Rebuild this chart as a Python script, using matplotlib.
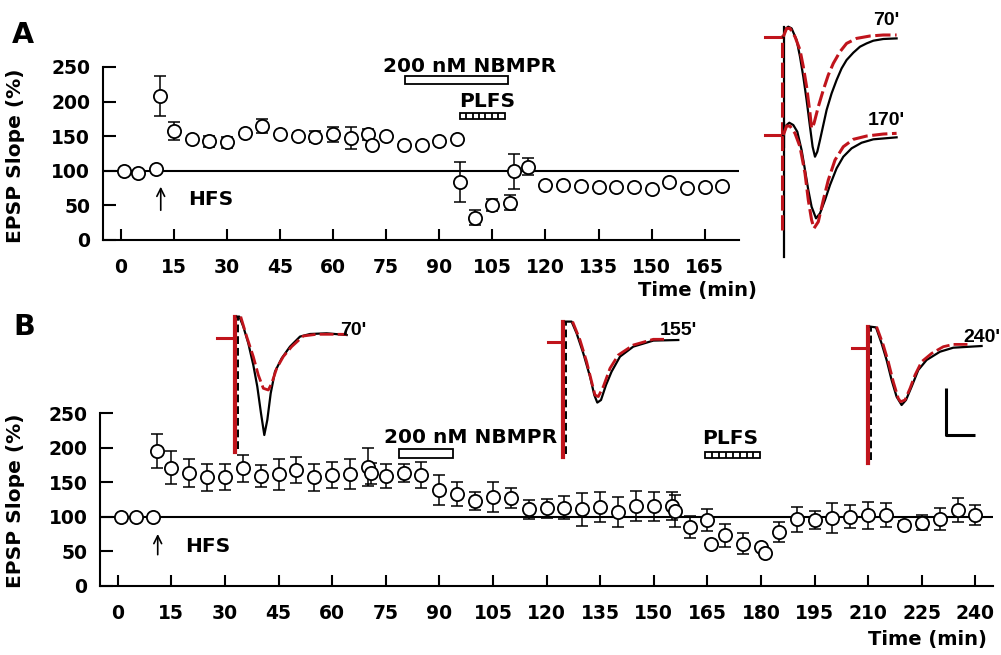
import numpy as np
import matplotlib
matplotlib.use("Agg")
import matplotlib.pyplot as plt
from matplotlib.patches import Rectangle

# ------------------------------------------------------------------ data
# Panel A: EPSP slope (% of baseline) vs time (min)
tA = [1, 5, 10, 11, 15, 20, 25, 30, 35, 40, 45, 50, 55, 60, 65, 70, 71, 75, 80, 85,
      90, 95, 96, 100, 105, 110, 111, 115, 120, 125, 130, 135, 140, 145, 150, 155, 160, 165, 170]
vA = [99, 97, 102, 208, 158, 146, 143, 141, 154, 165, 153, 151, 149, 153, 148, 153, 137.5, 150, 138, 137,
      143.5, 146, 84, 32, 50.5, 54, 99, 106, 80, 79.5, 78, 76, 77, 76, 74, 84, 75, 77, 78]
eA = [0, 0, 0, 29, 13, 3, 8, 8, 3, 10, 3, 3, 8, 11, 16, 8, 3, 3, 3, 3,
      3, 3, 29, 11, 9, 11, 25, 12, 3, 3, 3, 3, 3, 3, 3, 3, 3, 3, 3]

# Panel B
tB = [1, 5, 10, 11, 15, 20, 25, 30, 35, 40, 45, 50, 55, 60, 65, 70, 71, 75, 80, 85,
      90, 95, 100, 105, 110, 115, 120, 125, 130, 135, 140, 145, 150, 155, 156, 160, 165, 166, 170, 175,
      180, 181, 185, 190, 195, 200, 205, 210, 215, 220, 225, 230, 235, 240]
vB = [100, 100, 100, 195, 171, 163, 157, 158, 170, 159, 161.5, 168, 157, 161, 162, 172, 163, 159, 164, 160.5,
      139, 133, 123, 129, 127, 111, 112, 113, 111, 114, 107, 115.5, 115.5, 115.5, 108, 85.5, 95, 61, 73, 61,
      56.5, 48, 78, 96, 95, 97.6, 100, 102.4, 102.4, 88, 91.3, 96.2, 109.7, 102.4]
eB = [0, 0, 0, 25, 24, 20.5, 19, 19, 20, 16, 22, 19, 19, 19, 21.6, 27, 15, 17.6, 13, 19,
      22, 17, 12.6, 22, 14, 14, 13.3, 17, 24, 21.7, 21.7, 22, 21, 20, 23, 16, 16, 0, 17, 15,
      0, 0, 14.5, 17.6, 13, 21.7, 17, 19.5, 17.4, 6, 11, 16, 17.6, 15]

xticksA = list(range(0, 166, 15))
xticksB = list(range(0, 241, 15))
yticks = [0, 50, 100, 150, 200, 250]

nbmprA = (80.3, 109.5)
plfsA = (95.8, 108.5)
nbmprB = (78.8, 93.9)
plfsB = (164.4, 179.8)
hfsA = 11.3
hfsB = 11.2

# Representative EPSP traces (time in ms after stimulus, amplitude in mV rel. baseline)
# Panel A, 70'
A70_k_t = [0, 0.27, 0.5, 0.83, 1.33, 1.67, 2.0, 2.33, 2.67, 2.93, 3.17, 3.4, 3.67, 4.0, 4.33, 4.83,
           5.33, 5.83, 6.33, 7.0, 7.67, 8.33, 9.0, 10.0, 11.33]
A70_k_v = [0, 0.83, 1.0, 0.83, -0.33, -2.0, -4.0, -6.33, -9.0, -11.0, -12.0, -11.5, -10.33, -8.83, -7.33, -5.67,
           -4.33, -3.17, -2.33, -1.6, -1.0, -0.67, -0.4, -0.23, -0.17]
A70_r_t = [0, 0.33, 0.67, 1.17, 1.67, 2.0, 2.33, 2.67, 2.83, 3.07, 3.5, 4.0, 4.5, 5.0, 5.67, 6.33,
           7.33, 8.67, 10.0, 11.33]
A70_r_v = [0, 0.83, 0.83, 0, -1.33, -3.0, -5.0, -7.67, -9.17, -8.67, -7.0, -5.33, -3.83, -2.67, -1.5, -0.67,
           -0.17, 0.07, 0.17, 0.17]
# Panel A, 170'
A170_k_t = [0, 0.33, 0.6, 1.0, 1.4, 1.83, 2.17, 2.5, 2.83, 3.27, 3.67, 4.17, 4.67, 5.33, 6.0, 6.83,
            7.83, 9.0, 11.33]
A170_k_v = [0, 1.0, 1.23, 1.0, 0.33, -1.5, -3.5, -5.5, -7.17, -8.33, -7.83, -6.5, -5.0, -3.33, -2.17, -1.33,
            -0.77, -0.43, -0.23]
A170_r_t = [0, 0.33, 0.67, 1.17, 1.67, 2.17, 2.5, 2.83, 3.07, 3.5, 4.0, 4.5, 5.17, 6.0, 7.0, 8.33,
            10.0, 11.33]
A170_r_v = [0, 0.9, 0.9, 0.17, -1.17, -3.83, -6.5, -8.5, -9.33, -8.67, -6.5, -4.5, -2.5, -1.17, -0.43, -0.1,
            0.1, 0.17]
# Panel B, 70'
B70_k_t = [0.43, 0.83, 1.33, 1.83, 2.23, 2.6, 2.93, 3.23, 3.57, 4.0, 4.67, 5.5, 6.5, 7.5, 9.17, 11.17]
B70_k_v = [2.17, 1.17, -0.5, -2.67, -4.83, -7.5, -9.67, -8.17, -5.5, -3.33, -2.0, -0.83, 0.17, 0.43, 0.5, 0.33]
B70_r_t = [0.57, 1.17, 1.83, 2.33, 2.83, 3.33, 3.67, 4.17, 4.83, 5.67, 6.83, 8.17, 11.17]
B70_r_v = [2.17, 0.17, -1.83, -3.67, -5.0, -5.17, -4.5, -3.0, -1.83, -0.83, 0.23, 0.4, 0.4]
# Panel B, 155'
B155_k_t = [0.83, 1.33, 2.0, 2.67, 3.1, 3.4, 3.77, 4.27, 4.83, 5.67, 7.0, 9.0, 11.5]
B155_k_v = [2.07, 0.9, -1.1, -3.43, -5.27, -6.03, -5.77, -4.27, -2.93, -1.43, -0.43, 0.17, 0.23]
B155_r_t = [0.93, 1.67, 2.33, 2.83, 3.17, 3.5, 4.0, 4.67, 5.5, 7.0, 9.0, 10.33]
B155_r_v = [2.07, 0.23, -1.93, -3.93, -5.27, -5.43, -4.43, -2.6, -1.27, -0.27, 0.3, 0.3]
# Panel B, 240'
B240_k_t = [0.77, 1.33, 1.83, 2.33, 2.83, 3.33, 3.77, 4.33, 5.0, 5.83, 7.17, 8.5, 10.17, 11.33]
B240_k_v = [2.03, 0.43, -1.23, -3.23, -4.9, -5.73, -5.23, -3.9, -2.23, -1.23, -0.4, 0, 0.1, 0.17]
B240_r_t = [0.83, 1.5, 2.0, 2.5, 3.0, 3.23, 3.67, 4.17, 4.67, 5.33, 6.33, 7.5, 8.5, 10.17]
B240_r_v = [2.1, 0.27, -1.4, -3.4, -5.07, -5.4, -5.23, -4.07, -2.73, -1.4, -0.57, 0.1, 0.33, 0.33]

# ------------------------------------------------------------------ style
plt.rcParams['font.family'] = ['DejaVu Sans']
plt.rcParams['font.weight'] = 'bold'
RED = '#c0141c'
W, H = 1001, 655
fig = plt.figure(figsize=(W / 100, H / 100), dpi=100)


def px_axes(l, t, r, b):
    return fig.add_axes([l / W, 1 - b / H, (r - l) / W, (b - t) / H])


def main_panel(ax, t, v, e, xticks, xlim):
    ax.errorbar(t, v, yerr=e, fmt='none', ecolor='black', elinewidth=1.1,
                capsize=4, capthick=1.1, zorder=2)
    ax.plot(t, v, 'o', ms=9.5, mfc='white', mec='black', mew=1.3, zorder=3)
    ax.axhline(100, color='black', lw=1.5, zorder=1)
    ax.set_xlim(*xlim)
    ax.set_ylim(0, 250)
    ax.set_xticks(xticks)
    ax.set_yticks(yticks)
    for s in ['top', 'right']:
        ax.spines[s].set_visible(False)
    for s in ['left', 'bottom']:
        ax.spines[s].set_linewidth(1.5)
    ax.tick_params(axis='both', direction='in', width=1.5, labelsize=13.5)
    ax.tick_params(axis='y', length=9, pad=9)
    ax.tick_params(axis='x', length=8, pad=13)
    ax.patch.set_alpha(0)


def bar(ax, span, v0, v1, cells=0):
    ax.add_patch(Rectangle((span[0], v0), span[1] - span[0], v1 - v0, fc='white',
                           ec='black', lw=1.3, clip_on=False, zorder=4))
    if cells:
        xs = np.linspace(span[0], span[1], cells + 1)[1:-1]
        ax.vlines(xs, v0, v1, color='black', lw=1.3, clip_on=False, zorder=5)


def hfs(ax, t, v0, v1, vtext, ttext):
    ax.annotate('', xy=(t, v1), xytext=(t, v0),
                arrowprops=dict(arrowstyle='->', lw=1.2, mutation_scale=14, color='black',
                                shrinkA=0, shrinkB=0))
    ax.text(ttext, vtext, 'HFS', fontsize=14.5, fontweight='bold', va='center', ha='left')


# ------------------------------------------------------------------ panel A
axA = px_axes(102.7, 67, 739, 240)
main_panel(axA, tA, vA, eA, xticksA, (-5.1, 174.7))
axA.set_ylabel('EPSP Slope (%)', fontsize=14.5, fontweight='bold')
axA.yaxis.set_label_coords((25 - 102.7) / 636.3, (240 - 156) / 173)
axA.set_xlabel('Time (min)', fontsize=14, fontweight='bold', ha='right', va='center')
axA.xaxis.set_label_coords((757 - 102.7) / 636.3, (240 - 291) / 173)
bar(axA, nbmprA, 225, 237)
axA.text(sum(nbmprA) / 2 + 3.7, 243, '200 nM NBMPR', fontsize=14.5, ha='center', va='baseline')
bar(axA, plfsA, 175, 183, cells=7)
axA.text(103.6, 192.6, 'PLFS', fontsize=14.5, ha='center', va='baseline')
hfs(axA, hfsA, 43, 77, 58, 19.0)

# ------------------------------------------------------------------ panel B
axB = px_axes(100, 413.3, 993.3, 585.7)
main_panel(axB, tB, vB, eB, xticksB, (-4.95, 245))
axB.set_ylabel('EPSP Slope (%)', fontsize=14.5, fontweight='bold')
axB.yaxis.set_label_coords((25 - 100) / 893.3, (585.7 - 501) / 172.4)
axB.set_xlabel('Time (min)', fontsize=14, fontweight='bold', ha='right', va='center')
axB.xaxis.set_label_coords((987 - 100) / 893.3, (585.7 - 639) / 172.4)
bar(axB, nbmprB, 185.5, 198.6)
axB.text(98.6, 206.4, '200 nM NBMPR', fontsize=14.5, ha='center', va='baseline')
bar(axB, plfsB, 184.7, 194.3, cells=8)
axB.text(171.4, 205, 'PLFS', fontsize=14.5, ha='center', va='baseline')
hfs(axB, hfsB, 45, 75, 57.5, 18.8)

fig.text(12 / W, 1 - 43 / H, 'A', fontsize=20.5, fontweight='bold', va='baseline')
fig.text(13 / W, 1 - 335 / H, 'B', fontsize=20.5, fontweight='bold', va='baseline')


# ------------------------------------------------------------------ traces
def trace_axes(l, t, r, b, ox, oy):
    ax = px_axes(l, t, r, b)
    ax.set_xlim((l - ox) / 10, (r - ox) / 10)
    ax.set_ylim((oy - b) / 10, (oy - t) / 10)
    ax.axis('off')
    return ax


LBL = dict(fontsize=14, fontweight='bold', family=['Liberation Sans', 'DejaVu Sans'], va='baseline')

# Panel A traces (stacked)
tax = trace_axes(752, 5, 912, 265, 783.3, 36.7)
off = -(405 - 110) / 30
for dy, kt, kv, rt, rv, ktop, kbot, rbot in [
        (0, A70_k_t, A70_k_v, A70_r_t, A70_r_v, 1.0, -11.0, -10.0),
        (off, A170_k_t, A170_k_v, A170_r_t, A170_r_v, 1.2, -12.2, -9.5)]:
    tax.plot([-1.83, 0], [dy, dy], color=RED, lw=2.2)
    tax.plot([0.05, 0.05], [dy + kbot, dy + ktop], color='black', lw=1.6)
    tax.plot([-0.12, -0.12], [dy + rbot, dy + 0.2], color=RED, lw=2.2, dashes=(5, 1.5))
    tax.plot(kt, np.array(kv) + dy, color='black', lw=1.6)
    tax.plot(rt, np.array(rv) + dy, color=RED, lw=2.2, dashes=(5, 1.5))
fig.text(873 / W, 1 - 25 / H, "70'", **LBL)
fig.text(868 / W, 1 - 125 / H, "170'", **LBL)

# Panel B traces
for (l, r, ox, oy, top, bot, pre, kt, kv, rt, rv) in [
        (205, 385, 235.0, 338.3, 2.17, -11.33, -1.83, B70_k_t, B70_k_v, B70_r_t, B70_r_v),
        (535, 705, 563.3, 342.3, 2.07, -11.43, -1.5, B155_k_t, B155_k_v, B155_r_t, B155_r_v),
        (840, 1000, 868.3, 347.7, 2.1, -11.57, -1.67, B240_k_t, B240_k_v, B240_r_t, B240_r_v)]:
    bax = trace_axes(l, 310, r, 470, ox, oy)
    bax.plot([pre, 0], [0, 0], color=RED, lw=2.2)
    bax.plot([0, 0], [bot, top], color=RED, lw=3.0)
    bax.plot([0.25, 0.25], [bot + 0.3, top], color='black', lw=1.4, dashes=(4, 2))
    bax.plot([0.25] + list(kt), [top] + list(kv), color='black', lw=1.6)
    bax.plot(rt, rv, color=RED, lw=2.0, dashes=(5, 1.5))
    last = bax
# scale bar
last.plot([7.77, 7.77, 10.67], [-4.03, -8.73, -8.73], color='black', lw=2.2, solid_capstyle='butt')

fig.text(340 / W, 1 - 335 / H, "70'", **LBL)
fig.text(660 / W, 1 - 335 / H, "155'", **LBL)
fig.text(1000 / W, 1 - 341.7 / H, "240'", ha='right', **LBL)

fig.savefig('out.png', dpi=100)
